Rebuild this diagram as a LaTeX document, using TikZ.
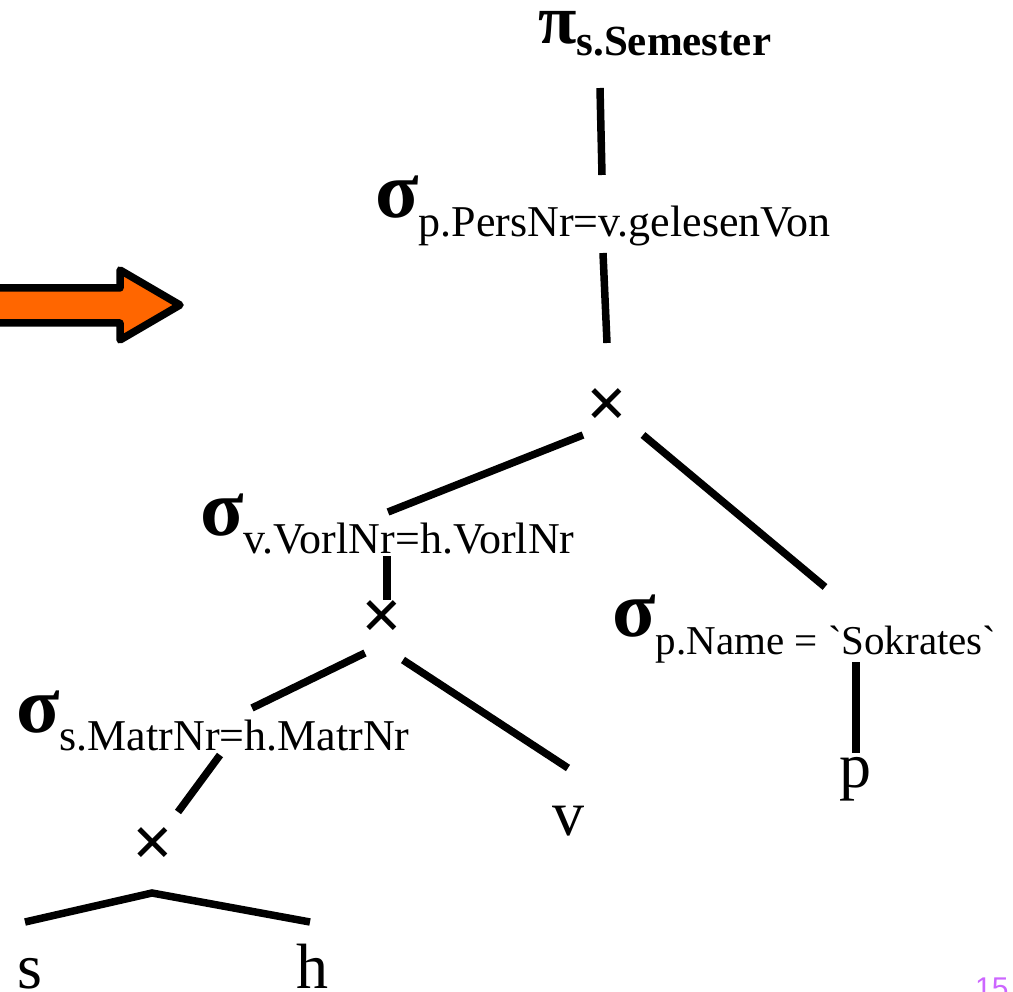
\documentclass[tikz,border=0pt]{standalone}
\usepackage{fontspec}
\setmainfont{Liberation Serif}
\setsansfont{Liberation Sans}
\usepackage{tikz}
\usetikzlibrary{positioning}
\usetikzlibrary{calc}
\definecolor{arroworange}{RGB}{255,102,0}
\definecolor{pagepurple}{RGB}{204,102,255}
\newcommand{\opsel}[2][18pt]{{\fontsize{80}{80}\selectfont\bfseries σ}\lower#1\hbox{\fontsize{44}{44}\selectfont #2}}
\newcommand{\opproj}[1]{{\fontsize{70}{70}\selectfont\bfseries π}\lower12pt\hbox{\fontsize{43}{43}\selectfont\bfseries #1}}
\tikzset{edge/.style={line width=7.5pt}}

\begin{document}
\begin{tikzpicture}
[
x=1pt, y=-1pt,
lbl/.style={anchor=base west, inner sep=0pt},
leaf/.style={anchor=base, inner sep=0pt, font=\fontsize{64}{64}\selectfont},
cross/.style={inner sep=0pt, font=\fontsize{72}{72}\selectfont\bfseries}
]
\useasboundingbox (0,0) rectangle (1013,992);

% big arrow on the left
\draw[line width=7.5pt, line join=round, fill=arroworange]
  (-20,288) -- (120,288) -- (120,270) -- (180,305) -- (120,340) -- (120,323) -- (-20,323) -- cycle;

% operators
\node[lbl] (proj) at (538,44) {\opproj{s.Semester}};
\node[lbl] (selP) at (375,218) {\opsel[19pt]{p.PersNr=v.gelesenVon}};
\node[cross] (x1) at (607,408) {×};
\node[lbl] (selV) at (200,535) {\opsel[18pt]{v.VorlNr=h.VorlNr}};
\node[lbl] (selN) at (612,636) {\opsel{\fontsize{41}{41}\selectfont p.Name = \textasciigrave Sokrates\textasciigrave}};
\node[cross] (x2) at (382,620) {×};
\node[lbl] (selS) at (16,732) {\opsel{s.MatrNr=h.MatrNr}};
\node[cross] (x3) at (153,847) {×};

% relations
\node[leaf] (v) at (568,835) {v};
\node[leaf] (p) at (855,787) {p};
\node[leaf] (s) at (30,988) {s};
\node[leaf] (h) at (312,988) {h};

\node[anchor=base west, inner sep=0pt, text=pagepurple, font=\sffamily\fontsize{30}{30}\selectfont] (page) at (975,998) {15};

% edges
\draw[edge] ([shift={(62,44)}]proj.base west) -- ([shift={(227,-43)}]selP.base west);
\draw[edge] ([shift={(228,35)}]selP.base west) -- ([shift={(0,-65)}]x1.center);
\draw[edge] ([shift={(-24,27)}]x1.center) -- ([shift={(188,-23)}]selV.base west);
\draw[edge] ([shift={(36,27)}]x1.center) -- ([shift={(213,-49)}]selN.base west);
\draw[edge] ([shift={(187,21)}]selV.base west) -- ([shift={(5,-20)}]x2.center);
\draw[edge] ([shift={(-17,33)}]x2.center) -- ([shift={(236,-24)}]selS.base west);
\draw[edge] ([shift={(21,40)}]x2.center) -- ([shift={(0,-67)}]v.base);
\draw[edge] ([shift={(244,26)}]selN.base west) -- ([shift={(1,-34)}]p.base);
\draw[edge] ([shift={(204,23)}]selS.base west) -- ([shift={(25,-35)}]x3.center);
\draw[edge] ([shift={(-5,-66)}]s.base) -- ([shift={(-1,46)}]x3.center) -- ([shift={(-2,-66)}]h.base);
\end{tikzpicture}
\end{document}
